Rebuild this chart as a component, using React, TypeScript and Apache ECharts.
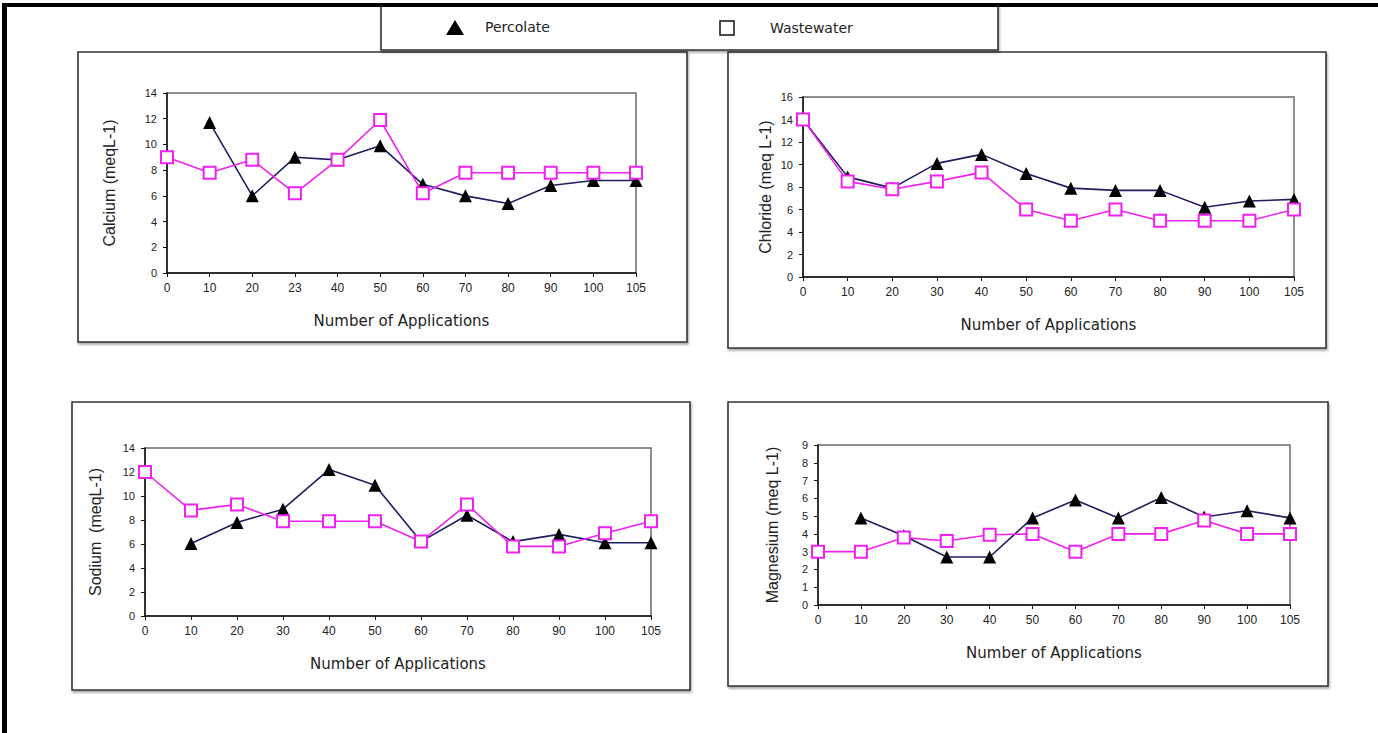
import React, { useEffect, useRef } from "react";
import * as echarts from "echarts";

const xCalcium = ["0", "10", "20", "23", "40", "50", "60", "70", "80", "90", "100", "105"];
const xStandard = ["0", "10", "20", "30", "40", "50", "60", "70", "80", "90", "100", "105"];

const calciumPercolate = [null, 11.7, 6.0, 9.0, 8.8, 9.9, 6.9, 6.0, 5.4, 6.8, 7.2, 7.2];
const calciumWastewater = [9.0, 7.8, 8.8, 6.2, 8.8, 11.9, 6.2, 7.8, 7.8, 7.8, 7.8, 7.8];

const chloridePercolate = [14, 8.9, 7.9, 10.1, 10.9, 9.2, 7.9, 7.7, 7.7, 6.2, 6.75, 6.9];
const chlorideWastewater = [14, 8.5, 7.8, 8.5, 9.3, 6.0, 5.0, 6.0, 5.0, 5.0, 5.0, 6.0];

const sodiumPercolate = [null, 6.05, 7.8, 8.9, 12.2, 10.9, 6.2, 8.4, 6.2, 6.8, 6.1, 6.1];
const sodiumWastewater = [12, 8.8, 9.3, 7.9, 7.9, 7.9, 6.2, 9.3, 5.8, 5.8, 6.9, 7.9];

const magnesiumPercolate = [null, 4.9, 3.9, 2.7, 2.7, 4.9, 5.9, 4.9, 6.05, 4.95, 5.3, 4.9];
const magnesiumWastewater = [3.0, 3.0, 3.8, 3.6, 3.95, 4.0, 3.0, 4.0, 4.0, 4.75, 4.0, 4.0];

const legendNames = ["Percolate", "Wastewater"];
const xTitle = "Number of Applications";

const FONT = "Liberation Sans, Arial, sans-serif";
const WIDE = "DejaVu Sans, Verdana, sans-serif";
const PINK = "#f020f0";
const NAVY = "#1e1e60";

const panels = [
  { name: "Calcium (meqL-1)", cats: xCalcium, perc: calciumPercolate, waste: calciumWastewater, max: 14, interval: 2,
    grid: { left: 167, top: 93, width: 469, height: 180 }, box: [78, 52, 609, 290], nameGap: 50 },
  { name: "Chloride (meq L-1)", cats: xStandard, perc: chloridePercolate, waste: chlorideWastewater, max: 16, interval: 2,
    grid: { left: 803, top: 97, width: 491, height: 180 }, box: [728, 52, 598, 296], nameGap: 30 },
  { name: "Sodium  (meqL-1)", cats: xStandard, perc: sodiumPercolate, waste: sodiumWastewater, max: 14, interval: 2,
    grid: { left: 145, top: 448, width: 506, height: 168 }, box: [72, 402, 618, 288], nameGap: 42 },
  { name: "Magnesium (meq L-1)", cats: xStandard, perc: magnesiumPercolate, waste: magnesiumWastewater, max: 9, interval: 1,
    grid: { left: 818, top: 445, width: 472, height: 160 }, box: [728, 402, 600, 284], nameGap: 38 },
];

export default function App() {
  const ref = useRef<HTMLDivElement>(null);
  useEffect(() => {
    if (!ref.current) return;
    const chart = echarts.init(ref.current, undefined, { renderer: "svg" });
    const grids: any[] = [];
    const xAxes: any[] = [];
    const yAxes: any[] = [];
    const series: any[] = [];
    const graphics: any[] = [];

    panels.forEach((p, i) => {
      grids.push({ ...p.grid, show: true, borderColor: "#6a6a6a", borderWidth: 1.5, backgroundColor: "#fff", containLabel: false });
      xAxes.push({
        type: "category", gridIndex: i, data: p.cats, boundaryGap: false,
        name: xTitle, nameLocation: "middle", nameGap: 40,
        nameTextStyle: { fontFamily: WIDE, fontSize: 15, color: "#222" },
        axisLine: { show: true, lineStyle: { color: "#111", width: 1.5 } },
        axisTick: { show: true, inside: false, length: 4, lineStyle: { color: "#111" }, alignWithLabel: true },
        axisLabel: { fontFamily: FONT, fontSize: 12, color: "#222", margin: 9, interval: 0 },
        splitLine: { show: false },
      });
      yAxes.push({
        type: "value", gridIndex: i, min: 0, max: p.max, interval: p.interval,
        name: p.name, nameLocation: "middle", nameGap: p.nameGap, nameRotate: 90,
        nameTextStyle: { fontFamily: FONT, fontSize: 16, color: "#222" },
        axisLine: { show: true, lineStyle: { color: "#111", width: 1.5 } },
        axisTick: { show: true, inside: false, length: 4, lineStyle: { color: "#111" } },
        axisLabel: { fontFamily: FONT, fontSize: 11, color: "#222", margin: 10 },
        splitLine: { show: false },
      });
      series.push({
        type: "line", name: legendNames[0], xAxisIndex: i, yAxisIndex: i, data: p.perc,
        symbol: "triangle", symbolSize: 13, connectNulls: false,
        itemStyle: { color: "#000" },
        lineStyle: { color: NAVY, width: 1.6 }, z: 2,
      });
      series.push({
        type: "line", name: legendNames[1], xAxisIndex: i, yAxisIndex: i, data: p.waste,
        symbol: "rect", symbolSize: 12, connectNulls: false,
        itemStyle: { color: "#fff", borderColor: PINK, borderWidth: 2 },
        lineStyle: { color: PINK, width: 1.6 }, z: 3,
      });
      const [bx, by, bw, bh] = p.box;
      graphics.push({
        type: "rect", shape: { x: bx, y: by, width: bw, height: bh }, z: -10,
        style: { fill: "#fff", stroke: "#333", lineWidth: 1.6, shadowBlur: 2, shadowOffsetX: 1, shadowOffsetY: 2, shadowColor: "rgba(0,0,0,0.35)" },
      });
    });

    // outer frame lines
    graphics.push({ type: "rect", shape: { x: 2, y: 3, width: 1376, height: 4 }, style: { fill: "#000" }, z: 5 });
    graphics.push({ type: "rect", shape: { x: 2, y: 3, width: 5, height: 730 }, style: { fill: "#000" }, z: 5 });
    // legend box
    graphics.push({
      type: "rect", shape: { x: 381, y: 5, width: 617, height: 45 }, z: 4,
      style: { fill: "#fff", stroke: "#333", lineWidth: 1.6, shadowBlur: 2, shadowOffsetX: 1, shadowOffsetY: 2, shadowColor: "rgba(0,0,0,0.35)" },
    });
    graphics.push({
      type: "polygon", shape: { points: [[455, 20], [446, 35], [464, 35]] }, z: 6, style: { fill: "#000" },
    });
    graphics.push({
      type: "text", x: 485, y: 27, z: 6,
      style: { text: legendNames[0], fontFamily: WIDE, fontSize: 14, fill: "#222", verticalAlign: "middle" },
    });
    graphics.push({
      type: "rect", shape: { x: 720, y: 21, width: 14, height: 14 }, z: 6,
      style: { fill: "#fff", stroke: "#111", lineWidth: 1.5 },
    });
    graphics.push({
      type: "text", x: 770, y: 28, z: 6,
      style: { text: legendNames[1], fontFamily: WIDE, fontSize: 14, fill: "#222", verticalAlign: "middle" },
    });

    chart.setOption({
      animation: false,
      backgroundColor: "#fff",
      grid: grids,
      xAxis: xAxes,
      yAxis: yAxes,
      series,
      graphic: graphics,
    });
    return () => chart.dispose();
  }, []);
  return (
    <div
      ref={ref}
      style={{ position: "fixed", left: 0, top: 0, width: 1378, height: 733, background: "#fff" }}
    />
  );
}
